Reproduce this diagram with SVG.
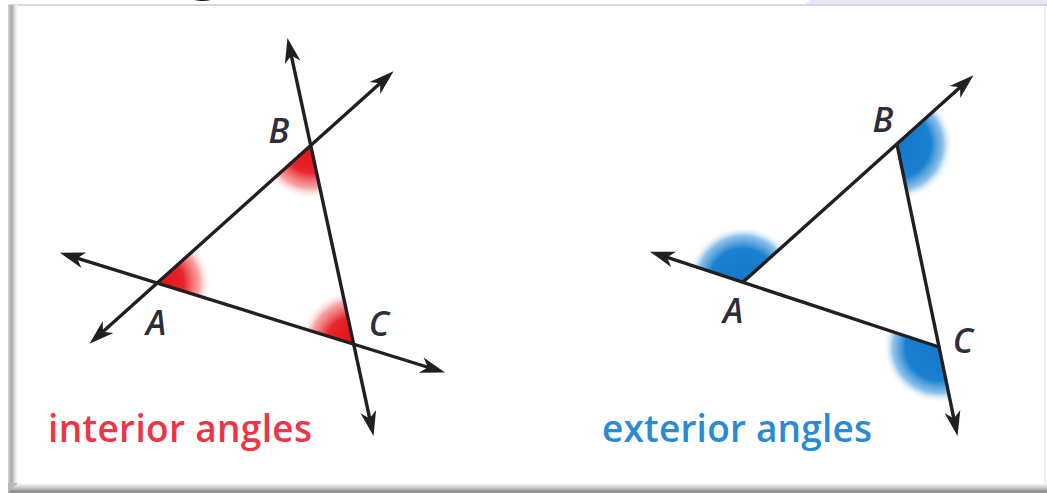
<svg xmlns="http://www.w3.org/2000/svg" width="1047" height="493" viewBox="0 0 1047 493">
  <defs>
    <style>
      .ln { fill: none; stroke: #231f20; stroke-width: 3.4; stroke-linecap: round; }
      .lbl { font-family: "Open Sans", "Noto Sans", sans-serif; font-style: italic; font-weight: 600; font-size: 34px; fill: #2e2d3a; text-anchor: middle; }
      .cap { font-family: "Open Sans", "Noto Sans", sans-serif; font-weight: 600; font-size: 37px; }
    </style>
    <marker id="arr" viewBox="-27 -10 29 20" refX="-12" refY="0" markerWidth="29" markerHeight="20" markerUnits="userSpaceOnUse" orient="auto-start-reverse">
      <path d="M0,0 L-25,-8 L-18,0 L-25,8 Z" fill="#231f20"/>
    </marker>
    <radialGradient id="redG" gradientUnits="userSpaceOnUse" cx="0" cy="0" r="54">
      <stop offset="0" stop-color="#e0101a"/>
      <stop offset="0.5" stop-color="#e9252c"/>
      <stop offset="0.78" stop-color="#f27a7a" stop-opacity="0.7"/>
      <stop offset="1" stop-color="#ffffff" stop-opacity="0"/>
    </radialGradient>
    <radialGradient id="blueG" gradientUnits="userSpaceOnUse" cx="0" cy="0" r="56">
      <stop offset="0" stop-color="#1577c9"/>
      <stop offset="0.6" stop-color="#1a80d0"/>
      <stop offset="0.82" stop-color="#5aa6e0" stop-opacity="0.7"/>
      <stop offset="1" stop-color="#ffffff" stop-opacity="0"/>
    </radialGradient>
    <linearGradient id="leftB" x1="0" y1="0" x2="1" y2="0">
      <stop offset="0" stop-color="#d4d4d4"/>
      <stop offset="0.35" stop-color="#a8a8a8"/>
      <stop offset="0.7" stop-color="#e2e2e2"/>
      <stop offset="1" stop-color="#ffffff"/>
    </linearGradient>
    <linearGradient id="botB" x1="0" y1="0" x2="0" y2="1">
      <stop offset="0" stop-color="#ffffff"/>
      <stop offset="0.5" stop-color="#c8c8c8"/>
      <stop offset="0.85" stop-color="#8a8a8a"/>
      <stop offset="1" stop-color="#a8a8a8"/>
    </linearGradient>
  </defs>

  <!-- frame / background -->
  <rect x="0" y="0" width="1047" height="493" fill="#ffffff"/>
  <polygon points="810,0 1047,0 1047,4 805,4" fill="#e6e6f5"/>
  <rect x="8" y="4" width="1039" height="2" fill="#d9d9d9"/>
  <rect x="8" y="5" width="10" height="480" fill="url(#leftB)"/>
  <rect x="1044" y="6" width="2" height="478" fill="#f0f0f0"/>
  <polygon points="8,483 1047,483 1047,493 8,493" fill="url(#botB)"/>
  <polygon points="8,483 18,483 8,493" fill="#b8b8b8"/>
  <text x="179" y="-16" font-family="Liberation Sans, sans-serif" font-weight="700" font-size="80" fill="#111111">g</text>

  <!-- left figure: interior angles -->
  <g id="interior-angles">
    <g id="int-A" transform="translate(157,283)"><path d="M0,0 L40.2,-36.1 A54,54 0 0 1 51.6,16.1 Z" fill="url(#redG)"/></g>
    <g id="int-B" transform="translate(310.7,145.5)"><path d="M0,0 L11.4,52.8 A54,54 0 0 1 -40.2,36.1 Z" fill="url(#redG)"/></g>
    <g id="int-C" transform="translate(353,344)"><path d="M0,0 L-51.6,-16.1 A54,54 0 0 1 -11.4,-52.8 Z" fill="url(#redG)"/></g>
  </g>

  <!-- right figure: exterior angles -->
  <g id="exterior-angles">
    <g id="ext-A" transform="translate(743,282)"><path d="M0,0 L-53.1,-17.6 A56,56 0 0 1 42,-37 Z" fill="url(#blueG)"/></g>
    <g id="ext-B" transform="translate(897,144.5)"><path d="M0,0 L42,-37 A56,56 0 0 1 11.5,54.8 Z" fill="url(#blueG)"/></g>
    <g id="ext-C" transform="translate(939,347)"><path d="M0,0 L11.5,54.8 A56,56 0 0 1 -53.1,-17.6 Z" fill="url(#blueG)"/></g>
  </g>

  <g id="connectors">
    <!-- left -->
    <line class="ln" x1="98.4" y1="335.7" x2="384.6" y2="79.3" marker-start="url(#arr)" marker-end="url(#arr)"/>
    <line class="ln" x1="290" y1="49.7" x2="371" y2="424.3" marker-start="url(#arr)" marker-end="url(#arr)"/>
    <line class="ln" x1="71.4" y1="256.4" x2="433.6" y2="369" marker-start="url(#arr)" marker-end="url(#arr)"/>
    <!-- right -->
    <line class="ln" x1="661.3" y1="255.4" x2="939" y2="347" marker-start="url(#arr)"/>
    <line class="ln" x1="743" y1="282" x2="964.6" y2="83.3" marker-end="url(#arr)"/>
    <line class="ln" x1="897" y1="144.5" x2="955.1" y2="424.3" marker-end="url(#arr)"/>
  </g>

  <g id="labels-left">
    <text class="lbl" x="279" y="143">B</text>
    <text class="lbl" x="156" y="335">A</text>
    <text class="lbl" x="379" y="336">C</text>
  </g>
  <g id="labels-right">
    <text class="lbl" x="883" y="132">B</text>
    <text class="lbl" x="733" y="323">A</text>
    <text class="lbl" x="963" y="353">C</text>
  </g>

  <text id="caption-left" class="cap" x="48" y="442" fill="#ee3545" textLength="264" lengthAdjust="spacing">interior angles</text>
  <text id="caption-right" class="cap" x="602" y="442" fill="#2a8ad4" textLength="270" lengthAdjust="spacing">exterior angles</text>
</svg>
